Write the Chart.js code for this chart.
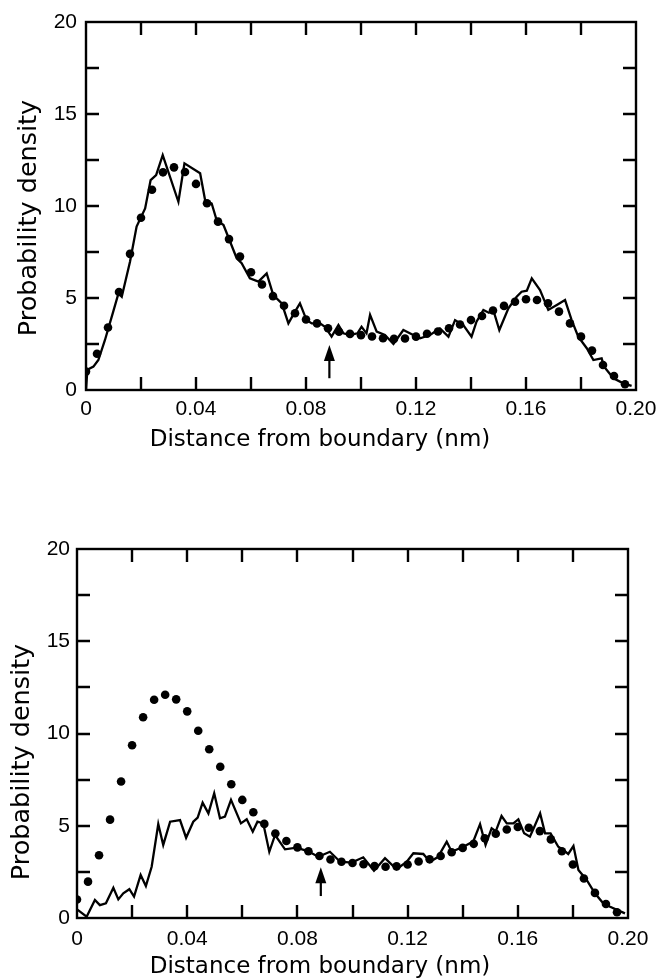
<!DOCTYPE html>
<html><head><meta charset="utf-8">
<script src="https://cdn.jsdelivr.net/npm/chart.js@4.4.0/dist/chart.umd.min.js"></script>
<style>
html,body{margin:0;padding:0;background:#fff;}
#wrap{position:relative;width:657px;height:980px;overflow:hidden;}
.c{position:absolute;left:0;}
</style></head><body>
<div id="wrap">
<div class="c" style="top:0;width:657px;height:470px"><canvas id="c1"></canvas></div>
<div class="c" style="top:470px;width:657px;height:510px"><canvas id="c2"></canvas></div>
</div>
<script>
// ---- data ----
const dotX = [0,0.004,0.008,0.012,0.016,0.020,0.024,0.028,0.032,0.036,0.040,0.044,0.048,0.052,0.056,0.060,0.064,0.068,0.072,0.076,0.080,0.084,0.088,0.092,0.096,0.100,0.104,0.108,0.112,0.116,0.120,0.124,0.128,0.132,0.136,0.140,0.144,0.148,0.152,0.156,0.160,0.164,0.168,0.172,0.176,0.180,0.184,0.188,0.192,0.196];
const dotY = [1.0,1.97,3.4,5.33,7.4,9.36,10.88,11.83,12.1,11.85,11.2,10.15,9.15,8.2,7.25,6.4,5.73,5.1,4.58,4.17,3.83,3.62,3.36,3.17,3.05,2.98,2.91,2.81,2.78,2.8,2.9,3.06,3.18,3.36,3.56,3.8,4.02,4.32,4.57,4.8,4.93,4.89,4.71,4.26,3.62,2.9,2.14,1.36,0.76,0.31];

const topLineX = [0,0.0005,0.0027,0.0045,0.0069,0.0099,0.0118,0.013,0.016,0.0184,0.0215,0.0235,0.0255,0.0279,0.0336,0.0358,0.0415,0.0433,0.0457,0.0475,0.05,0.0548,0.0566,0.0596,0.0627,0.0657,0.0681,0.0712,0.0736,0.076,0.0778,0.0802,0.0821,0.0851,0.0869,0.0893,0.0918,0.0936,0.096,0.0987,0.1002,0.102,0.1033,0.1057,0.1087,0.1118,0.1154,0.119,0.1215,0.1251,0.1287,0.1318,0.1342,0.1372,0.1402,0.142,0.1445,0.1465,0.1481,0.1503,0.1536,0.1566,0.1584,0.1603,0.1621,0.1651,0.1681,0.1712,0.1742,0.1766,0.179,0.1821,0.1845,0.1875,0.1884,0.1918,0.1954,0.1984];
const topLineY = [0,1.1,1.27,1.63,2.72,4.26,5.25,5.07,6.97,8.88,9.87,11.41,11.68,12.77,10.23,12.32,11.78,10.33,10.14,9.24,8.97,7.16,6.89,6.07,5.89,6.34,5.16,4.71,3.62,4.26,4.71,3.8,3.62,3.62,3.44,2.9,3.53,3.08,2.99,3.08,3.44,3.08,4.08,3.17,2.99,2.5,3.26,2.99,2.81,2.99,3.35,2.9,3.8,3.53,2.9,3.71,4.35,4.2,4.35,3.26,4.44,5.07,5.34,5.4,6.07,5.43,4.35,4.62,4.89,3.8,2.9,2.27,1.63,1.72,1.27,0.64,0.36,0.22];

const botLineX = [0,0.0035,0.0065,0.0083,0.0105,0.0132,0.015,0.0168,0.019,0.0207,0.0231,0.025,0.0271,0.0295,0.0313,0.0338,0.0374,0.0396,0.0422,0.0438,0.0456,0.0477,0.0498,0.0519,0.0537,0.0559,0.0595,0.0616,0.0638,0.0655,0.0676,0.0698,0.0719,0.0755,0.0797,0.0837,0.0876,0.0918,0.0955,0.0997,0.1039,0.1078,0.1118,0.116,0.1197,0.1221,0.1257,0.1281,0.131,0.1342,0.136,0.1402,0.1438,0.1463,0.1483,0.1505,0.152,0.1541,0.156,0.1584,0.1602,0.1623,0.1644,0.166,0.1681,0.1699,0.1719,0.1747,0.1765,0.1783,0.1802,0.182,0.185,0.188,0.191,0.1935,0.1989];
const botLineY = [0.47,0.07,0.98,0.7,0.8,1.64,1.01,1.34,1.56,1.16,2.33,1.73,2.78,5.09,3.96,5.22,5.31,4.35,5.22,5.44,6.25,5.67,6.76,5.4,5.49,6.4,5.13,5.35,4.68,5.22,5.13,3.59,4.5,3.72,3.81,3.63,3.32,3.59,3.05,3.0,3.29,2.56,3.24,2.64,3.05,3.51,3.47,3.05,3.3,4.14,3.59,3.86,4.14,5.09,3.96,4.86,4.7,5.53,5.13,5.13,5.35,4.59,4.41,4.95,5.67,4.59,4.59,3.86,3.69,3.47,3.9,2.6,2.06,1.34,0.8,0.61,0.25];

const xTickLabels = ['0','0.04','0.08','0.12','0.16','0.20'];
const yTickLabels = ['0','5','10','15','20'];
const arrowX = 0.0885;
const topArrow = [0.64, 2.45];
const botArrow = [1.19, 2.75];
const xTitle = 'Distance from boundary (nm)';
const yTitle = 'Probability density';

Chart.defaults.font.family = "'Liberation Sans', Arial, sans-serif";
Chart.defaults.font.size = 21;
Chart.defaults.color = '#000';

const toPts = (xs, ys) => xs.map((v, i) => ({x: v, y: ys[i]}));

const framePlugin = {
  id: 'frame',
  afterDatasetsDraw(chart, args, o) {
    const {ctx, chartArea: a, scales: {x, y}} = chart;
    ctx.save();
    ctx.strokeStyle = '#000';
    ctx.lineWidth = 2.4;
    ctx.strokeRect(a.left, a.top, a.right - a.left, a.bottom - a.top);
    const L = 13;
    ctx.beginPath();
    x.ticks.forEach(t => {
      const px = Math.round(x.getPixelForValue(t.value));
      if (px <= a.left + 2 || px >= a.right - 2) return;
      ctx.moveTo(px, a.bottom); ctx.lineTo(px, a.bottom - L);
      ctx.moveTo(px, a.top); ctx.lineTo(px, a.top + L);
    });
    y.ticks.forEach(t => {
      const py = Math.round(y.getPixelForValue(t.value));
      if (py <= a.top + 2 || py >= a.bottom - 2) return;
      ctx.moveTo(a.left, py); ctx.lineTo(a.left + L, py);
      ctx.moveTo(a.right, py); ctx.lineTo(a.right - L, py);
    });
    ctx.stroke();
    // arrow
    const ax = x.getPixelForValue(o.arrowX);
    const yTail = y.getPixelForValue(o.arrow[0]);
    const yTip = y.getPixelForValue(o.arrow[1]);
    ctx.lineWidth = 2.2;
    ctx.beginPath();
    ctx.moveTo(ax, yTail); ctx.lineTo(ax, yTip + 12);
    ctx.stroke();
    ctx.beginPath();
    ctx.moveTo(ax, yTip); ctx.lineTo(ax - 5.5, yTip + 16); ctx.lineTo(ax + 5.5, yTip + 16); ctx.closePath();
    ctx.fillStyle = '#000'; ctx.fill();
    // titles
    ctx.fillStyle = '#000';
    ctx.textAlign = 'center'; ctx.textBaseline = 'middle';
    ctx.font = o.xTitleFont;
    ctx.fillText(o.xTitle, o.xtX, o.xtY);
    ctx.font = o.yTitleFont;
    ctx.translate(o.ytX, o.ytY);
    ctx.rotate(-Math.PI / 2);
    ctx.fillText(o.yTitle, 0, 0);
    ctx.restore();
  }
};

function makeChart(id, cfg) {
  return new Chart(document.getElementById(id), {
    type: 'line',
    data: {
      datasets: [
        {data: toPts(cfg.lineX, cfg.lineY), borderColor: '#000', borderWidth: 2.3, pointRadius: 0, tension: 0, fill: false, order: 2},
        {data: toPts(dotX, dotY), showLine: false, pointRadius: 4.3, pointBackgroundColor: '#000', pointBorderWidth: 0, order: 1}
      ]
    },
    options: {
      responsive: true, maintainAspectRatio: false, animation: false,
      layout: {padding: {top: cfg.padTop, right: cfg.padRight, left: 0, bottom: 0}},
      plugins: {
        legend: {display: false}, tooltip: {enabled: false},
        frame: {arrowX: arrowX, arrow: cfg.arrow, xTitle: xTitle, yTitle: yTitle,
          xTitleFont: "23px 'DejaVu Sans', sans-serif", yTitleFont: "25.5px 'DejaVu Sans', sans-serif",
          xtX: cfg.xtX, xtY: cfg.xtY, ytX: cfg.ytX, ytY: cfg.ytY}
      },
      scales: {
        x: {
          type: 'linear', min: 0, max: 0.2,
          grid: {display: false, drawTicks: false}, border: {display: false},
          ticks: {stepSize: 0.02, autoSkip: false, maxRotation: 0, padding: cfg.xPad,
            callback: (v, i) => (i % 2 === 0 ? xTickLabels[i / 2] : '')},
          afterFit: s => { s.height = cfg.xH; s.paddingLeft = 0; s.paddingRight = 0; }
        },
        y: {
          min: 0, max: 20,
          grid: {display: false, drawTicks: false}, border: {display: false},
          ticks: {stepSize: 2.5, autoSkip: false, padding: cfg.yPad,
            callback: (v, i) => (i % 2 === 0 ? yTickLabels[i / 2] : '')},
          afterFit: s => { s.width = cfg.yW; s.paddingTop = 0; s.paddingBottom = 0; }
        }
      }
    },
    plugins: [framePlugin]
  });
}

makeChart('c1', {lineX: topLineX, lineY: topLineY, arrow: topArrow,
  padTop: 22, padRight: 21, xH: 80, yW: 86, xPad: 7, yPad: 9,
  xtX: 320, xtY: 440, ytX: 29, ytY: 218});
makeChart('c2', {lineX: botLineX, lineY: botLineY, arrow: botArrow,
  padTop: 79, padRight: 29, xH: 62, yW: 77, xPad: 9, yPad: 7,
  xtX: 320, xtY: 497, ytX: 22, ytY: 292});
</script>
</body></html>
